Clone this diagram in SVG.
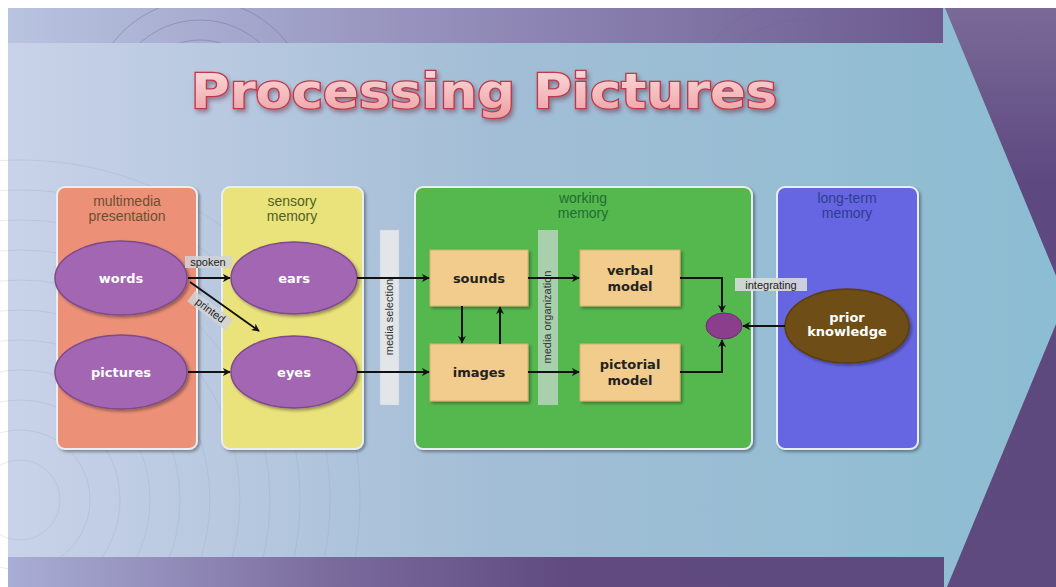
<svg xmlns="http://www.w3.org/2000/svg" width="1056" height="587" viewBox="0 0 1056 587">
<defs>
  <linearGradient id="bgGrad" x1="0" y1="0" x2="1" y2="0">
    <stop offset="0" stop-color="#C9D2E8"/>
    <stop offset="0.45" stop-color="#A3BED6"/>
    <stop offset="1" stop-color="#8CBDD2"/>
  </linearGradient>
  <linearGradient id="topGrad" x1="0" y1="0" x2="1" y2="0">
    <stop offset="0" stop-color="#B8C4E0"/>
    <stop offset="0.45" stop-color="#9590BC"/>
    <stop offset="1" stop-color="#6C5A8E"/>
  </linearGradient>
  <linearGradient id="botGrad" x1="0" y1="0" x2="1" y2="0">
    <stop offset="0" stop-color="#A9AED6"/>
    <stop offset="0.35" stop-color="#7A6A9C"/>
    <stop offset="0.6" stop-color="#604A80"/>
    <stop offset="1" stop-color="#5E4A7E"/>
  </linearGradient>
  <linearGradient id="rightGrad" x1="0" y1="0" x2="0" y2="1">
    <stop offset="0" stop-color="#7A6A98"/>
    <stop offset="0.3" stop-color="#5E4880"/>
    <stop offset="1" stop-color="#5E4A7E"/>
  </linearGradient>
  <linearGradient id="titleGrad" x1="0" y1="0" x2="0" y2="1">
    <stop offset="0" stop-color="#FCE0E0"/>
    <stop offset="1" stop-color="#EE9EA2"/>
  </linearGradient>
  <clipPath id="topClip"><rect x="8" y="8" width="935" height="35"/></clipPath>
  <filter id="shadow" x="-10%" y="-10%" width="130%" height="130%">
    <feDropShadow dx="2" dy="2" stdDeviation="1.5" flood-color="#000" flood-opacity="0.35"/>
  </filter>
  <filter id="tshadow" x="-5%" y="-20%" width="110%" height="150%">
    <feDropShadow dx="2" dy="3" stdDeviation="2" flood-color="#602030" flood-opacity="0.45"/>
  </filter>
  <marker id="arr" viewBox="0 0 10 10" refX="9" refY="5" markerWidth="8" markerHeight="8" orient="auto-start-reverse" markerUnits="userSpaceOnUse">
    <path d="M0,0 L10,5 L0,10 L3,5 z" fill="#111"/>
  </marker>
  <style>
    .panel { stroke: #E8EEF2; stroke-width: 2; filter: url(#shadow); }
    .hdr { font-family: "Liberation Sans", Arial, sans-serif; font-size: 14px; text-anchor: middle; }
    .ell { fill: #A266B2; stroke: #7E4A8E; stroke-width: 1.5; filter: url(#shadow); }
    .elt { font-family: "DejaVu Sans", "Liberation Sans", sans-serif; font-weight: bold; font-size: 13px; fill: #fff; text-anchor: middle; }
    .box { fill: #F2CC8C; stroke: #D8B070; stroke-width: 1; filter: url(#shadow); }
    .bxt { font-family: "DejaVu Sans", "Liberation Sans", sans-serif; font-weight: bold; font-size: 13px; fill: #222; text-anchor: middle; }
    .bar { font-family: "Liberation Sans", Arial, sans-serif; font-size: 11px; fill: #333; text-anchor: middle; }
    .lbl { font-family: "Liberation Sans", Arial, sans-serif; font-size: 11px; fill: #222; }
    .ln { stroke: #111; stroke-width: 2; fill: none; marker-end: url(#arr); }
  </style>
</defs>

<!-- background -->
<rect x="0" y="0" width="1056" height="587" fill="#FFFFFF"/>
<rect x="8" y="8" width="1048" height="579" fill="url(#bgGrad)"/>
<g fill="none" stroke="#8E9AB8" stroke-opacity="0.22" stroke-width="1">
  <circle cx="20" cy="500" r="40"/>
  <circle cx="20" cy="500" r="70"/>
  <circle cx="20" cy="500" r="100"/>
  <circle cx="20" cy="500" r="130"/>
  <circle cx="20" cy="500" r="160"/>
  <circle cx="20" cy="500" r="190"/>
  <circle cx="20" cy="500" r="220"/>
  <circle cx="20" cy="500" r="250"/>
  <circle cx="20" cy="500" r="280"/>
  <circle cx="20" cy="500" r="310"/>
  <circle cx="20" cy="500" r="340"/>
</g>
<rect x="8" y="8" width="935" height="35" fill="url(#topGrad)"/>
<g fill="none" stroke="#6A6A98" stroke-opacity="0.4" stroke-width="1" clip-path="url(#topClip)">
  <circle cx="200" cy="110" r="70"/>
  <circle cx="200" cy="110" r="90"/>
  <circle cx="200" cy="110" r="110"/>
  <circle cx="800" cy="110" r="70"/>
  <circle cx="800" cy="110" r="90"/>
  <circle cx="800" cy="110" r="110"/>
</g>
<rect x="8" y="557" width="936" height="30" fill="url(#botGrad)"/>
<path d="M945,8 L1056,8 L1056,587 L947,587 L1066,300 Z" fill="url(#rightGrad)"/>

<!-- title -->
<text x="484" y="108" font-family="DejaVu Sans, 'Liberation Sans', sans-serif" font-weight="bold" font-size="48" textLength="586" lengthAdjust="spacingAndGlyphs" text-anchor="middle" fill="url(#titleGrad)" stroke="#C0384A" stroke-width="2.5" paint-order="stroke" filter="url(#tshadow)">Processing Pictures</text>

<!-- panels -->
<g id="panel-multimedia">
  <rect class="panel" x="57" y="187" width="140" height="262" rx="8" fill="#EC9078"/>
  <text class="hdr" fill="#6B5030"><tspan x="127" y="206">multimedia</tspan><tspan x="127" y="221">presentation</tspan></text>
</g>
<g id="panel-sensory">
  <rect class="panel" x="222" y="187" width="141" height="262" rx="8" fill="#EAE27A"/>
  <text class="hdr" fill="#4E6226"><tspan x="292" y="206">sensory</tspan><tspan x="292" y="221">memory</tspan></text>
</g>
<g id="panel-working">
  <rect class="panel" x="415" y="187" width="337" height="262" rx="8" fill="#55B850"/>
  <text class="hdr" fill="#1E6E30"><tspan x="583" y="203">working</tspan><tspan x="583" y="218">memory</tspan></text>
</g>
<g id="panel-longterm">
  <rect class="panel" x="777" y="187" width="141" height="262" rx="8" fill="#6666E2"/>
  <text class="hdr" fill="#2E3C90"><tspan x="847" y="203">long-term</tspan><tspan x="847" y="218">memory</tspan></text>
</g>

<!-- bars -->
<g id="media-selection">
  <rect x="380" y="230" width="19" height="175" fill="#E2E6E8" stroke="#C8CCD0" stroke-width="0.5"/>
  <text class="bar" transform="translate(393,317) rotate(-90)">media selection</text>
</g>
<g id="media-organization">
  <rect x="538" y="230" width="20" height="175" fill="#B8D4BC" fill-opacity="0.85"/>
  <text class="bar" transform="translate(551,317) rotate(-90)">media organization</text>
</g>

<!-- nodes -->
<g id="words"><ellipse class="ell" cx="121" cy="278" rx="66" ry="37"/><text class="elt" x="121" y="283">words</text></g>
<g id="pictures"><ellipse class="ell" cx="121" cy="372" rx="66" ry="37"/><text class="elt" x="121" y="377">pictures</text></g>
<g id="ears"><ellipse class="ell" cx="294" cy="278" rx="63" ry="36"/><text class="elt" x="294" y="283">ears</text></g>
<g id="eyes"><ellipse class="ell" cx="294" cy="372" rx="63" ry="36"/><text class="elt" x="294" y="377">eyes</text></g>
<g id="sounds"><rect class="box" x="430" y="250" width="98" height="56"/><text class="bxt" x="479" y="283">sounds</text></g>
<g id="images"><rect class="box" x="430" y="344" width="98" height="57"/><text class="bxt" x="479" y="377">images</text></g>
<g id="verbal-model"><rect class="box" x="580" y="250" width="100" height="56"/><text class="bxt"><tspan x="630" y="275">verbal</tspan><tspan x="630" y="291">model</tspan></text></g>
<g id="pictorial-model"><rect class="box" x="580" y="344" width="100" height="57"/><text class="bxt"><tspan x="630" y="369">pictorial</tspan><tspan x="630" y="385">model</tspan></text></g>
<g id="integration-node"><ellipse cx="724" cy="326" rx="18" ry="13" fill="#8A3E8C" stroke="#6E2E70" stroke-width="1"/></g>
<g id="prior-knowledge"><ellipse cx="847" cy="326" rx="62" ry="37" fill="#6E4E12" stroke="#5A3E0A" stroke-width="1.5" filter="url(#shadow)"/><text class="elt"><tspan x="847" y="322">prior</tspan><tspan x="847" y="336">knowledge</tspan></text></g>

<!-- connectors -->
<g id="connectors">
  <path class="ln" d="M188,278 L230,278"/>
  <path class="ln" d="M190,282 L259,331"/>
  <path class="ln" d="M188,372 L230,372"/>
  <path class="ln" d="M357,278 L429,278"/>
  <path class="ln" d="M357,372 L429,372"/>
  <path class="ln" d="M462,306 L462,343"/>
  <path class="ln" d="M500,344 L500,307"/>
  <path class="ln" d="M528,278 L579,278"/>
  <path class="ln" d="M528,372 L579,372"/>
  <path class="ln" d="M680,278 L722,278 L722,312"/>
  <path class="ln" d="M680,372 L722,372 L722,340"/>
  <path class="ln" d="M785,326 L743,326"/>
  <g id="label-spoken">
    <rect x="185" y="256" width="47" height="12" fill="#D0D4D8" fill-opacity="0.85"/>
    <text class="lbl" x="208" y="266" text-anchor="middle">spoken</text>
  </g>
  <g id="label-printed" transform="translate(210,311) rotate(37)">
    <rect x="-24" y="-7" width="48" height="13" fill="#D0D4D8" fill-opacity="0.85"/>
    <text class="lbl" x="0" y="3" text-anchor="middle">printed</text>
  </g>
  <g id="label-integrating">
    <rect x="735" y="278" width="72" height="13" fill="#D8DCDC" fill-opacity="0.9"/>
    <text class="lbl" x="771" y="289" text-anchor="middle">integrating</text>
  </g>
</g>
</svg>
